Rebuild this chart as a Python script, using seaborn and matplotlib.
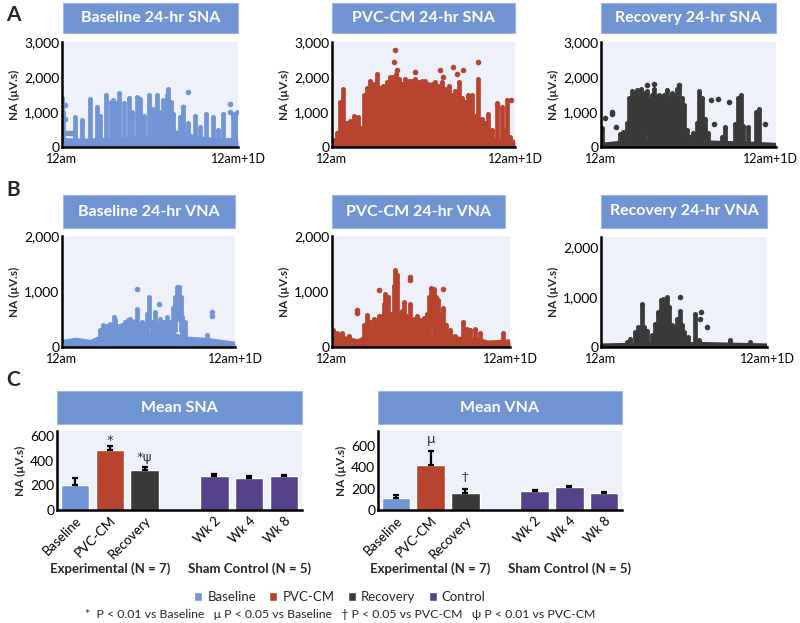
import numpy as np
import pandas as pd
import seaborn as sns
import matplotlib.pyplot as plt
from matplotlib.patches import Rectangle, Patch
from matplotlib import transforms

W, H = 800, 623

# colours
c_base = "#7094d4"
c_pvc = "#b8432f"
c_rec = "#3a3a3a"
c_ctrl = "#55428a"
c_head = "#7094d2"
c_bg = "#eef1f9"

# ---- 24-hr traces: stripes (hour, low, high), isolated dots (hour, value), floor band (hour, top)
bsna_stripes = [(0.0, 0, 1400), (0.2, 0, 1000), (1.8, 300, 850), (2.7, 0, 780), (3.8, 0, 1380),
                (4.8, 0, 1150), (5.2, 200, 900), (6.0, 0, 1480), (6.7, 0, 1300), (7.0, 0, 1350),
                (7.4, 0, 1250), (7.8, 100, 1540), (8.4, 0, 1250), (9.1, 0, 1400), (9.6, 200, 1000),
                (10.2, 0, 1430), (10.6, 0, 1380), (11.2, 300, 900), (11.8, 0, 1480), (12.4, 200, 1100),
                (12.9, 0, 1480), (13.4, 300, 1000), (13.8, 0, 1330), (14.3, 100, 1500), (14.5, 0, 1670),
                (14.8, 100, 1300), (15.2, 200, 950), (16.1, 300, 860), (16.5, 200, 1140), (17.2, 200, 700),
                (18.1, 200, 880), (18.8, 0, 570), (19.6, 0, 950), (20.6, 0, 860), (21.3, 0, 500),
                (22.0, 0, 950), (23.3, 0, 950), (23.9, 0, 1000)]
bsna_dots = [(0.45, 1200), (0.45, 800), (0.6, 400), (0.9, 400), (1.2, 400), (1.5, 400),
             (17.2, 1570), (22.9, 1240), (22.9, 1000), (16.5, 1140)]
bsna_floor = [(0, 200), (3, 180), (6, 200), (9, 220), (12, 250), (13.5, 400), (15, 420),
              (17, 400), (18, 250), (21, 200), (24, 200)]

psna_stripes = [(0.2, 0, 200), (0.65, 0, 400), (1.1, 0, 1300), (1.45, 0, 1650), (1.9, 0, 700),
                (2.4, 0, 750), (2.9, 0, 900), (3.4, 0, 850), (3.8, 0, 550), (4.15, 0, 1500),
                (4.6, 0, 1700), (5.0, 0, 1900), (5.45, 100, 1800), (5.9, 0, 2100), (6.3, 0, 1700),
                (6.75, 200, 1750), (7.2, 0, 1850), (7.6, 0, 2000), (8.0, 0, 2000), (8.35, 300, 2100),
                (8.75, 0, 1950), (9.2, 0, 1800), (9.6, 100, 1950), (10.05, 0, 1900), (10.5, 300, 1900),
                (10.9, 0, 1950), (11.35, 200, 1850), (11.8, 0, 1900), (12.2, 300, 1900), (12.65, 0, 1800),
                (13.1, 200, 1800), (13.5, 0, 1850), (13.95, 100, 1750), (14.4, 0, 1850), (14.85, 300, 1650),
                (15.3, 0, 1750), (15.7, 200, 1500), (16.15, 0, 1600), (16.6, 200, 1850), (17.0, 0, 1400),
                (17.5, 0, 1300), (17.9, 100, 1500), (18.3, 0, 1500), (18.8, 0, 900), (19.2, 0, 1950),
                (19.65, 0, 800), (20.1, 0, 700), (20.5, 0, 950), (21.0, 0, 500), (21.6, 0, 1250),
                (22.3, 0, 1150), (22.7, 0, 500), (23.0, 0, 1330), (23.4, 0, 300)]
psna_dots = [(8.3, 2760), (8.15, 2430), (8.5, 2190), (10.9, 2140), (14.2, 2190), (14.6, 2000),
             (15.85, 2300), (16.4, 2100), (17.2, 2200), (19.2, 2430), (21.6, 1240), (23.5, 1330)]
psna_floor = [(0, 150), (6, 200), (12, 200), (18, 200), (24, 150)]

rsna_stripes = [(0.1, 0, 550), (2.6, 0, 380), (3.05, 0, 430), (3.6, 0, 700), (3.9, 0, 1400),
                (4.2, 0, 1600), (4.5, 100, 1550), (4.9, 0, 1620), (5.25, 300, 1500), (5.55, 200, 1650),
                (5.9, 300, 1550), (6.25, 400, 1600), (6.6, 0, 1350), (6.95, 0, 1500), (7.25, 100, 1650),
                (7.6, 0, 1450), (8.0, 200, 1500), (8.35, 0, 1450), (8.7, 300, 1500), (9.0, 100, 1620),
                (9.35, 0, 1400), (9.7, 300, 1550), (10.1, 200, 1500), (10.45, 300, 1650), (10.75, 100, 1700),
                (11.05, 0, 1400), (11.35, 0, 1200), (11.75, 0, 500), (12.2, 0, 300), (12.65, 0, 400),
                (13.1, 0, 700), (13.45, 0, 1600), (13.8, 0, 1400), (14.25, 0, 800), (14.7, 0, 400),
                (16.55, 0, 300), (17.0, 0, 570), (18.35, 0, 670), (18.8, 0, 1400), (19.15, 0, 1500),
                (19.5, 0, 600), (20.2, 0, 570), (21.3, 0, 1000), (21.65, 0, 1100)]
rsna_dots = [(0.55, 840), (1.45, 1000), (1.45, 940), (2.05, 570), (6.25, 1760), (7.25, 1810),
             (10.75, 1760), (15.1, 1330), (15.5, 670), (16.1, 1380), (17.6, 1290), (22.55, 670)]
rsna_floor = [(0, 60), (4, 150), (8, 200), (12, 150), (16, 120), (20, 100), (24, 60)]

bvna_stripes = [(5.3, 0, 300), (5.75, 0, 400), (6.2, 0, 380), (6.7, 0, 420), (7.15, 0, 540),
                (7.4, 0, 490), (7.85, 0, 380), (8.3, 50, 400), (8.75, 0, 450), (9.2, 50, 480),
                (9.45, 0, 510), (9.8, 0, 420), (10.15, 0, 460), (10.35, 100, 690), (10.75, 0, 400),
                (11.05, 50, 450), (11.5, 0, 380), (11.85, 100, 600), (12.1, 400, 900), (12.45, 0, 450),
                (12.9, 0, 630), (13.2, 50, 400), (13.6, 0, 500), (14.05, 100, 450), (14.5, 0, 540),
                (14.95, 100, 450), (15.35, 50, 700), (15.65, 300, 900), (15.9, 500, 1080), (16.2, 500, 1080),
                (16.5, 300, 900), (16.7, 0, 540), (17.05, 0, 450), (20.05, 0, 210)]
bvna_dots = [(10.35, 1050), (13.4, 780), (20.75, 630), (20.75, 560)]
bvna_floor = [(0, 90), (2, 130), (4, 90), (5, 150), (10, 200), (16, 200), (17, 150), (20, 130), (24, 60)]

pvna_stripes = [(0.2, 0, 300), (0.65, 0, 250), (1.35, 50, 250), (2.25, 50, 200), (4.25, 0, 400),
                (4.7, 50, 570), (5.15, 0, 450), (5.6, 100, 500), (5.95, 0, 480), (6.3, 100, 550),
                (6.75, 0, 550), (6.95, 200, 780), (7.15, 300, 960), (7.6, 100, 900), (7.95, 0, 600),
                (8.3, 300, 1100), (8.5, 400, 1390), (8.75, 100, 1300), (9.1, 0, 600), (9.4, 100, 650),
                (9.65, 200, 810), (10.1, 0, 550), (10.55, 200, 780), (11.0, 100, 500), (11.45, 0, 550),
                (11.9, 100, 480), (12.35, 0, 520), (12.8, 100, 600), (13.05, 300, 900), (13.3, 400, 1070),
                (13.7, 300, 1050), (14.05, 100, 900), (14.35, 0, 840), (14.65, 100, 600), (14.95, 0, 700),
                (15.4, 0, 400), (15.9, 0, 300), (16.6, 0, 200), (17.6, 100, 450), (18.15, 0, 330),
                (18.6, 0, 300), (19.3, 50, 330), (19.95, 0, 250), (23.1, 0, 250)]
pvna_dots = [(6.3, 1020), (10.55, 1270), (10.55, 1200), (14.95, 1050), (3.4, 660), (3.4, 620)]
pvna_floor = [(0, 200), (2, 150), (3.5, 100), (5, 200), (12, 250), (16, 200), (17, 150),
              (20, 120), (21, 80), (24, 100)]

rvna_stripes = [(3.7, 0, 100), (4.2, 0, 170), (4.9, 0, 300), (5.4, 0, 400), (5.9, 0, 870),
                (6.25, 0, 400), (6.6, 0, 330), (7.35, 0, 250), (7.8, 0, 470), (8.3, 0, 700),
                (8.65, 0, 950), (8.95, 0, 970), (9.3, 0, 900), (9.6, 0, 1000), (9.9, 0, 800),
                (10.25, 0, 450), (10.6, 0, 400), (10.95, 0, 570), (11.35, 0, 730), (11.7, 0, 450),
                (12.05, 0, 300), (12.65, 0, 200), (13.6, 0, 670), (14.1, 0, 150), (18.7, 0, 150),
                (21.6, 0, 100)]
rvna_dots = [(11.35, 1000), (14.4, 700), (14.3, 570), (15.3, 400)]
rvna_floor = [(0, 30), (3.5, 40), (14.5, 60), (24, 30)]

# ---- mean bars
bar_labels = ["Baseline", "PVC-CM", "Recovery", "Wk 2", "Wk 4", "Wk 8"]
bar_groups = ["Baseline", "PVC-CM", "Recovery", "Control", "Control", "Control"]
bar_pos = [0, 1, 2, 4, 5, 6]
sna_mean = [200, 487, 322, 276, 259, 273]
sna_err = [57, 28, 30, 13, 16, 11]
vna_mean = [115, 422, 162, 181, 212, 162]
vna_err = [25, 134, 38, 10, 9, 7]
palette = {"Baseline": c_base, "PVC-CM": c_pvc, "Recovery": c_rec, "Control": c_ctrl}

sns.set_theme(style="white")
plt.rcParams['font.family'] = ['Lato', 'DejaVu Sans']

fig = plt.figure(figsize=(8, 6.23), dpi=100)


def box(l, t, r, b):
    return [l / W, 1 - b / H, (r - l) / W, (b - t) / H]


def header(l, t, r, b, text):
    fig.add_artist(Rectangle((l / W, 1 - b / H), (r - l) / W, (b - t) / H, transform=fig.transFigure,
                             facecolor=c_head, edgecolor="#9fb6e2", lw=0.8))
    fig.text((l + r) / 2 / W, 1 - (t + b) / 2 / H, text, color="white", fontsize=11.5,
             fontweight="bold", ha="center", va="center")


def style_axes(ax, xpad=2):
    ax.set_facecolor(c_bg)
    for s in ["top", "right"]:
        ax.spines[s].set_visible(False)
    for s in ["left", "bottom"]:
        ax.spines[s].set_color("black")
        ax.spines[s].set_linewidth(1.8)
    ax.tick_params(axis="y", length=0, pad=2, colors="black")
    ax.tick_params(axis="x", length=0, pad=xpad, colors="black")
    ax.set_ylabel("NA (µV.s)", fontsize=8.5, fontweight="bold", labelpad=3)
    ax.set_xlabel("")


def trace_panel(rect, stripes, dots, floor, color, ymax, yticks, edge=False):
    ax = fig.add_axes(box(*rect))
    st = pd.DataFrame(stripes, columns=["t", "lo", "hi"])
    dd = pd.DataFrame(dots, columns=["t", "v"])
    fl = pd.DataFrame(floor, columns=["t", "v"])
    ax.fill_between(fl.t, 0, fl.v, color=color, lw=0)
    sns.lineplot(data=fl, x="t", y="v", color=color, lw=3, ax=ax)
    ax.vlines(st.t, st.lo, st.hi, color=color, lw=3.4)
    # round ends on each stripe, like the individual samples
    sns.scatterplot(x=st.t, y=st.hi, color=color, s=13, linewidth=0, ax=ax)
    sns.scatterplot(x=st.t[st.lo > 0], y=st.lo[st.lo > 0], color=color, s=13, linewidth=0, ax=ax)
    sns.scatterplot(data=dd, x="t", y="v", color=color, s=16, linewidth=0, ax=ax)
    ax.set_xlim(0, 24)
    ax.set_ylim(0, ymax)
    ax.set_xticks([0, 24], ["12am", "12am+1D"], fontsize=9)
    ax.set_yticks(yticks, [f"{v:,}" for v in yticks], fontsize=10)
    style_axes(ax, xpad=4)
    if edge:
        lab = ax.get_xticklabels()[-1]
        lab.set_ha("right")
        lab.set_transform(lab.get_transform() + transforms.ScaledTranslation(0.215, 0, fig.dpi_scale_trans))
    return ax


def bar_panel(rect, vals, errs, ymax, yticks, marks):
    ax = fig.add_axes(box(*rect))
    df = pd.DataFrame({"pos": bar_pos, "val": vals, "grp": bar_groups})
    sns.barplot(data=df, x="pos", y="val", hue="grp", palette=palette, native_scale=True,
                dodge=False, width=0.82, legend=False, errorbar=None, saturation=1, ax=ax)
    ax.errorbar(bar_pos, vals, yerr=[np.zeros(len(vals)), errs], fmt="none", ecolor="black",
                elinewidth=1.6, capsize=2.2, capthick=1.6)
    for i, txt, y in marks:
        ax.text(bar_pos[i], y, txt, ha="center", va="center", fontsize=9.5, color="#333333",
                family="DejaVu Sans")
    ax.set_xlim(-0.52, 6.52)
    ax.set_ylim(0, ymax)
    ax.set_xticks(bar_pos, bar_labels, rotation=45, ha="right", rotation_mode="anchor", fontsize=9.5)
    ax.set_yticks(yticks, [str(v) for v in yticks], fontsize=10)
    style_axes(ax, xpad=3)
    tr = transforms.blended_transform_factory(ax.transData, fig.transFigure)
    ax.text(1, 1 - 569 / H, "Experimental (N = 7)", transform=tr, ha="center", va="center",
            fontsize=9.5, fontweight="bold")
    ax.text(5, 1 - 569 / H, "Sham Control (N = 5)", transform=tr, ha="center", va="center",
            fontsize=9.5, fontweight="bold")
    return ax


# row A
header(63, 3, 238, 33, "Baseline 24-hr SNA")
header(332, 3, 515, 33, "PVC-CM 24-hr SNA")
header(601, 3, 776, 33, "Recovery 24-hr SNA")
sna_ticks = [0, 1000, 2000, 3000]
trace_panel((62, 42, 238, 147), bsna_stripes, bsna_dots, bsna_floor, c_base, 3000, sna_ticks)
trace_panel((332, 42, 515, 147), psna_stripes, psna_dots, psna_floor, c_pvc, 3000, sna_ticks)
trace_panel((601, 42, 776, 147), rsna_stripes, rsna_dots, rsna_floor, c_rec, 3000, sna_ticks, edge=True)

# row B
header(63, 195, 235, 228, "Baseline 24-hr VNA")
header(332, 195, 505, 228, "PVC-CM 24-hr VNA")
header(601, 195, 767, 228, "Recovery 24-hr VNA")
vna_ticks = [0, 1000, 2000]
trace_panel((62, 236, 235, 347), bvna_stripes, bvna_dots, bvna_floor, c_base, 2000, vna_ticks)
trace_panel((332, 236, 510, 347), pvna_stripes, pvna_dots, pvna_floor, c_pvc, 2000, vna_ticks)
trace_panel((601, 237, 767, 347), rvna_stripes, rvna_dots, rvna_floor, c_rec, 2200, vna_ticks)

# row C
header(57, 391, 302, 424, "Mean SNA")
header(378, 391, 622, 424, "Mean VNA")
bar_panel((57, 431, 302, 510), sna_mean, sna_err, 640, [0, 200, 400, 600],
          [(1, "*", 565), (2, "*\u03c8", 425)])
bar_panel((378, 431, 622, 510), vna_mean, vna_err, 740, [0, 200, 400, 600],
          [(1, "\u03bc", 656), (2, "\u2020", 309)])

for lab, y in [("A", 15), ("B", 190), ("C", 380)]:
    fig.text(6 / W, 1 - y / H, lab, fontsize=15, fontweight="bold", va="center")

handles = [Patch(facecolor=palette[k], label=k) for k in palette]
fig.legend(handles=handles, loc="center", bbox_to_anchor=(340 / W, 1 - 597 / H), ncol=4,
           frameon=False, fontsize=9.5, handlelength=0.6, handleheight=0.6,
           handletextpad=0.4, columnspacing=1.0)
fig.text(340 / W, 1 - 615 / H,
         "*  P < 0.01 vs Baseline   \u03bc P < 0.05 vs Baseline   \u2020 P < 0.05 vs PVC-CM   "
         "\u03c8 P < 0.01 vs PVC-CM", ha="center", va="center", fontsize=8.8)

fig.savefig("out.png", dpi=100)
